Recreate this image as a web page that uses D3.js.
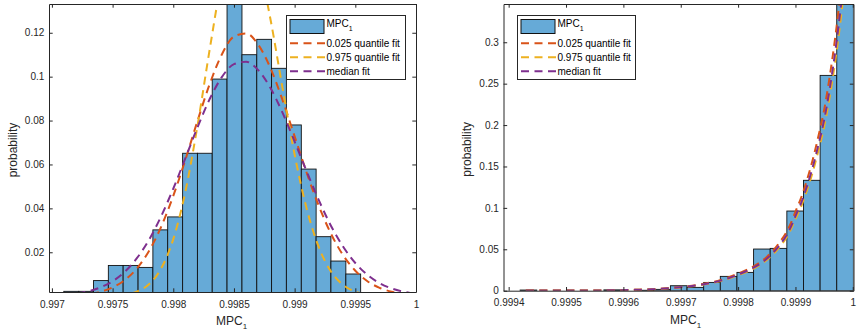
<!DOCTYPE html>
<html>
<head>
<meta charset="utf-8">
<script src="https://cdn.jsdelivr.net/npm/d3@7"></script>
<style>
  html, body { margin: 0; padding: 0; background: #fff; }
  svg { display: block; font-family: "Liberation Sans", Arial, Helvetica, sans-serif; }
</style>
</head>
<body>
<svg id="chart" width="865" height="333"></svg>
<script>
// ---------------- DATA ----------------
// Left panel histogram (bin edges and probabilities)
const leftEdges = [0.996976, 0.997098, 0.997221, 0.997343, 0.997465, 0.997587, 0.997710,
  0.997832, 0.997954, 0.998077, 0.998199, 0.998321, 0.998443, 0.998566, 0.998688,
  0.998810, 0.998932, 0.999055, 0.999177, 0.999299, 0.999422, 0.999544];
const leftProb = [0, 0.0022, 0.0022, 0.0071, 0.0140, 0.0140, 0.0131, 0.0302, 0.0361, 0.0651,
  0.0651, 0.0989, 0.1340, 0.1100, 0.1170, 0.1038, 0.0780, 0.0579, 0.0271, 0.0160, 0.0101];
// Left panel fitted curves
const leftFitX = [0.99710, 0.99720, 0.99730, 0.99740, 0.99750, 0.99760, 0.99770, 0.99780,
  0.99790, 0.99800, 0.99810, 0.99820, 0.99830, 0.99840, 0.99850, 0.99860, 0.99870, 0.99880,
  0.99890, 0.99900, 0.99910, 0.99920, 0.99930, 0.99940, 0.99950, 0.99960, 0.99970, 0.99980,
  0.99990, 1.00000];
const leftFitQ025 = [0.0002, 0.0005, 0.0010, 0.0020, 0.0040, 0.0073, 0.0126, 0.0206, 0.0316,
  0.0457, 0.0622, 0.0799, 0.0966, 0.1101, 0.1183, 0.1197, 0.1146, 0.1040, 0.0894, 0.0728,
  0.0561, 0.0410, 0.0284, 0.0186, 0.0116, 0.0068, 0.0038, 0.0020, 0.0010, 0.0005];
const leftFitQ975 = [0, 0, 0, 0.0001, 0.0002, 0.0007, 0.0021, 0.0054, 0.0126, 0.0260, 0.0477,
  0.0778, 0.1124, 0.1443, 0.1644, 0.1667, 0.1525, 0.1264, 0.0949, 0.0645, 0.0397, 0.0222,
  0.0112, 0.0051, 0.0021, 0.0008, 0.0003, 0.0001, 0, 0];
const leftFitMed = [0.0006, 0.0012, 0.0022, 0.0040, 0.0068, 0.0111, 0.0173, 0.0257, 0.0364,
  0.0490, 0.0629, 0.0770, 0.0898, 0.0998, 0.1057, 0.1068, 0.1030, 0.0949, 0.0836, 0.0704,
  0.0567, 0.0436, 0.0320, 0.0225, 0.0151, 0.0097, 0.0059, 0.0035, 0.0020, 0.0010];
const leftXTicks = [0.997, 0.9975, 0.998, 0.9985, 0.999, 0.9995, 1];
const leftXTickLabels = ["0.997", "0.9975", "0.998", "0.9985", "0.999", "0.9995", "1"];
const leftYTicks = [0.02, 0.04, 0.06, 0.08, 0.10, 0.12];
const leftYTickLabels = ["0.02", "0.04", "0.06", "0.08", "0.1", "0.12"];
const leftXDomain = [0.996976, 1.0];
const leftYDomain = [0.0019, 0.1331];

// Right panel histogram
const rightEdges = [0.999420, 0.999449, 0.999478, 0.999508, 0.999537, 0.999566, 0.999595,
  0.999624, 0.999653, 0.999682, 0.999711, 0.999740, 0.999769, 0.999798, 0.999827, 0.999856,
  0.999885, 0.999914, 0.999943, 0.999972, 1.000001];
const rightProb = [0.0008, 0, 0, 0, 0, 0.0010, 0, 0.0005, 0.0016, 0.0060, 0.0040, 0.0100,
  0.0173, 0.0221, 0.0503, 0.0511, 0.0962, 0.1333, 0.2600, 0.3462];
// Right panel fitted curves
const rightFitX = [0.99943, 0.99946, 0.99950, 0.99954, 0.99958, 0.99962, 0.99965, 0.99968,
  0.99971, 0.99974, 0.99977, 0.99980, 0.99983, 0.99985, 0.99987, 0.99989, 0.99990, 0.99991,
  0.99992, 0.99993, 0.99994, 0.99995, 0.99996, 0.99997, 0.99998, 0.99999];
const rightFitQ025 = [0.0001, 0.0001, 0.0002, 0.0003, 0.0005, 0.0011, 0.0018, 0.0032, 0.0053,
  0.0083, 0.0130, 0.0207, 0.0307, 0.0408, 0.0562, 0.0784, 0.0954, 0.1124, 0.1336, 0.1579,
  0.1866, 0.2184, 0.2597, 0.3095, 0.3689, 0.4399];
const rightFitQ975 = [0.0001, 0.0001, 0.0002, 0.0003, 0.0005, 0.0010, 0.0016, 0.0029, 0.0048,
  0.0075, 0.0117, 0.0187, 0.0278, 0.0370, 0.0509, 0.0710, 0.0864, 0.1018, 0.1210, 0.1430,
  0.1690, 0.1978, 0.2352, 0.2803, 0.3341, 0.3984];
const rightFitMed = [0.0001, 0.0001, 0.0002, 0.0003, 0.0005, 0.0010, 0.0017, 0.0030, 0.0050,
  0.0078, 0.0122, 0.0195, 0.0290, 0.0385, 0.0530, 0.0740, 0.0900, 0.1060, 0.1260, 0.1490,
  0.1760, 0.2060, 0.2450, 0.2920, 0.3480, 0.4150];
const rightXTicks = [0.9994, 0.9995, 0.9996, 0.9997, 0.9998, 0.9999, 1];
const rightXTickLabels = ["0.9994", "0.9995", "0.9996", "0.9997", "0.9998", "0.9999", "1"];
const rightYTicks = [0, 0.05, 0.10, 0.15, 0.20, 0.25, 0.30];
const rightYTickLabels = ["0", "0.05", "0.1", "0.15", "0.2", "0.25", "0.3"];
const rightXDomain = [0.999391, 1.0000012];
const rightYDomain = [0, 0.3462];

const seriesNames = ["0.025 quantile fit", "0.975 quantile fit", "median fit"];
const histName = "MPC";
const histSub = "1";
const yLabel = "probability";

// ---------------- STYLE ----------------
const barFill = "#66aad7";
const fitColors = ["#d95319", "#edb120", "#7e2f8e"];
const axisColor = "#262626";
const dash = "8,5.5";

const svg = d3.select("#chart");

function panel(cfg) {
  const x = d3.scaleLinear().domain(cfg.xDomain).range([cfg.x0, cfg.x1]);
  const y = d3.scaleLinear().domain(cfg.yDomain).range([cfg.y1, cfg.y0]);
  const clipId = "clip" + cfg.id;
  svg.append("clipPath").attr("id", clipId).append("rect")
    .attr("x", cfg.x0).attr("y", cfg.y0)
    .attr("width", cfg.x1 - cfg.x0).attr("height", cfg.y1 - cfg.y0);

  const g = svg.append("g").attr("clip-path", `url(#${clipId})`);
  const bins = cfg.prob.map((p, i) => ({ x0: cfg.edges[i], x1: cfg.edges[i + 1], p }));
  g.selectAll("rect.bar").data(bins.filter(b => b.p > 0)).join("rect")
    .attr("class", "bar")
    .attr("x", d => x(d.x0)).attr("width", d => x(d.x1) - x(d.x0))
    .attr("y", d => y(d.p)).attr("height", d => y(Math.min(cfg.yDomain[0], 0)) - y(d.p))
    .attr("fill", barFill).attr("stroke", "#111").attr("stroke-width", 0.9);

  const line = d3.line().x(d => x(d[0])).y(d => y(d[1])).curve(d3.curveMonotoneX);
  cfg.fits.forEach((vals, k) => {
    g.append("path")
      .datum(cfg.fitX.map((xv, i) => [xv, vals[i]]))
      .attr("d", line).attr("fill", "none")
      .attr("stroke", fitColors[k]).attr("stroke-width", 2)
      .attr("stroke-dasharray", dash);
  });

  // axes
  const ax = svg.append("g").attr("color", axisColor).attr("font-size", 11)
    .attr("font-family", "Liberation Sans, Arial, sans-serif");
  const tl = 3.7;
  ax.append("g").attr("transform", `translate(0,${cfg.y1})`)
    .call(d3.axisBottom(x).tickValues(cfg.xTicks).tickFormat((d, i) => cfg.xTickLabels[i])
      .tickSizeInner(-tl).tickSizeOuter(0).tickPadding(8.5));
  ax.append("g").attr("transform", `translate(0,${cfg.y0})`)
    .call(d3.axisTop(x).tickValues(cfg.xTicks).tickFormat("")
      .tickSizeInner(-tl).tickSizeOuter(0));
  ax.append("g").attr("transform", `translate(${cfg.x0},0)`)
    .call(d3.axisLeft(y).tickValues(cfg.yTicks).tickFormat((d, i) => cfg.yTickLabels[i])
      .tickSizeInner(-tl).tickSizeOuter(0).tickPadding(4.7));
  ax.append("g").attr("transform", `translate(${cfg.x1},0)`)
    .call(d3.axisRight(y).tickValues(cfg.yTicks).tickFormat("")
      .tickSizeInner(-tl).tickSizeOuter(0));
  ax.selectAll("text").attr("fill", axisColor);
  ax.selectAll(".domain, .tick line").attr("stroke-width", 1);

  // axis labels
  const xl = svg.append("text").attr("x", cfg.xLabelX).attr("y", cfg.xLabelY)
    .attr("font-size", 12).attr("fill", axisColor).text(histName);
  xl.append("tspan").attr("font-size", 8).attr("dy", 4).text(histSub);
  svg.append("text")
    .attr("transform", `translate(${cfg.yLabelX},${(cfg.y0 + cfg.y1) / 2 + 2}) rotate(-90)`)
    .attr("text-anchor", "middle").attr("font-size", 12).attr("fill", axisColor).text(yLabel);

  // legend
  const L = cfg.legend;
  const lg = svg.append("g").attr("font-size", 10).attr("fill", "#000");
  lg.append("rect").attr("x", L.x).attr("y", 15.5).attr("width", L.w).attr("height", 64)
    .attr("fill", "#fff").attr("stroke", axisColor).attr("stroke-width", 1);
  lg.append("rect").attr("x", L.x + 3.5).attr("y", 19.5).attr("width", 34).attr("height", 14)
    .attr("fill", barFill).attr("stroke", "#111").attr("stroke-width", 1);
  const t0 = lg.append("text").attr("x", L.x + 40).attr("y", 27).text(histName);
  t0.append("tspan").attr("font-size", 7).attr("dy", 3.5).text(histSub);
  seriesNames.forEach((name, k) => {
    const yy = 43.3 + k * 14;
    lg.append("line").attr("x1", L.x + 3.5).attr("x2", L.x + 38.5)
      .attr("y1", yy).attr("y2", yy)
      .attr("stroke", fitColors[k]).attr("stroke-width", 2).attr("stroke-dasharray", dash);
    lg.append("text").attr("x", L.x + 40).attr("y", yy + 3.5).text(name);
  });
}

panel({
  id: "L", x0: 49, x1: 416, y0: 4, y1: 292,
  xDomain: leftXDomain, yDomain: leftYDomain,
  edges: leftEdges, prob: leftProb,
  fitX: leftFitX, fits: [leftFitQ025, leftFitQ975, leftFitMed],
  xTicks: leftXTicks, xTickLabels: leftXTickLabels,
  yTicks: leftYTicks, yTickLabels: leftYTickLabels,
  xLabelX: 216, xLabelY: 324.7, yLabelX: 17,
  legend: { x: 286.5, w: 119 }
});
panel({
  id: "R", x0: 503.5, x1: 853.5, y0: 4, y1: 290.7,
  xDomain: rightXDomain, yDomain: rightYDomain,
  edges: rightEdges, prob: rightProb,
  fitX: rightFitX, fits: [rightFitQ025, rightFitQ975, rightFitMed],
  xTicks: rightXTicks, xTickLabels: rightXTickLabels,
  yTicks: rightYTicks, yTickLabels: rightYTickLabels,
  xLabelX: 670, xLabelY: 323.5, yLabelX: 471,
  legend: { x: 517.5, w: 118 }
});
</script>
</body>
</html>
